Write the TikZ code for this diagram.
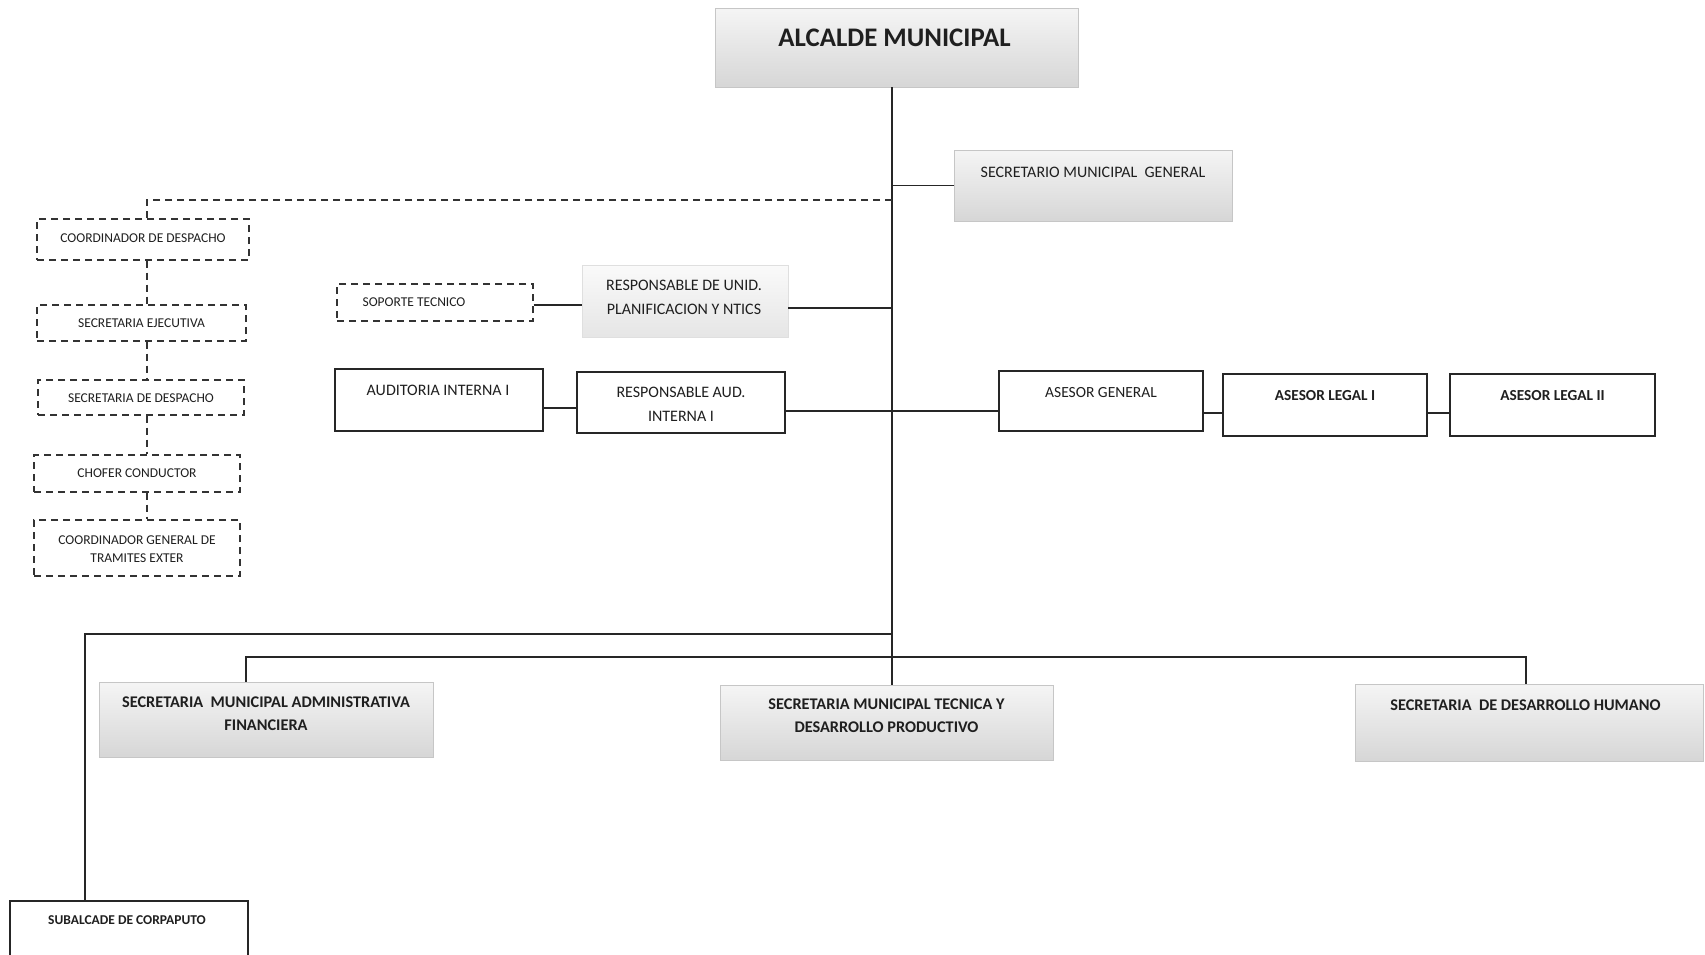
\documentclass[tikz,border=0pt]{standalone}
\usepackage{fontspec}
\setmainfont{Carlito}
\usetikzlibrary{calc}
\begin{document}
\begin{tikzpicture}[x=1pt,y=-1pt,
  conn/.style={line width=1.5pt, draw=black!85},
  dconn/.style={line width=1.2pt, draw=black!80, dash pattern=on 7pt off 5pt},
  solidbox/.style={draw=black!85, line width=1.3pt, inner sep=0pt},
  dashbox/.style={draw=black!80, line width=1.2pt, dash pattern=on 7pt off 5pt, inner sep=0pt},
  shadebox/.style={draw=gray!45, line width=0.8pt, top color=gray!8, bottom color=gray!32, inner sep=0pt},
  txt/.style={text=black!88, align=center, inner sep=0pt},
  big/.style={txt, font=\bfseries\fontsize{26.8}{31}\selectfont},
  mid/.style={txt, font=\fontsize{16}{24}\selectfont},
  midb/.style={txt, font=\bfseries\fontsize{16.3}{23}\selectfont},
  small/.style={txt, font=\fontsize{13.5}{18.5}\selectfont},
]
\useasboundingbox (0,0) rectangle (1705,954);
\fill[white] (0,0) rectangle (1705,954);

% boxes
\node[shadebox, minimum width=363pt, minimum height=79pt] (alc) at (896.5,47.5) {};
\node[big] (alct) at ([xshift=-2pt,yshift=9.5pt]alc.center) {ALCALDE MUNICIPAL};

\node[shadebox, minimum width=278pt, minimum height=71pt] (sec) at (1093,185.5) {};
\node[mid] (sect) at ([yshift=13.5pt]sec.center) {SECRETARIO MUNICIPAL\ \ GENERAL};

\node[dashbox, minimum width=212pt, minimum height=41pt] (cd) at (143,239.5) {};
\node[small] (cdt) at ([yshift=1.5pt]cd.center) {COORDINADOR DE DESPACHO};

\node[dashbox, minimum width=209pt, minimum height=36pt] (se) at (141.5,323) {};
\node[small] (set) at (se.center) {SECRETARIA EJECUTIVA};

\node[dashbox, minimum width=206pt, minimum height=35pt] (sd) at (141,397.5) {};
\node[small] (sdt) at ([yshift=-1pt]sd.center) {SECRETARIA DE DESPACHO};

\node[dashbox, minimum width=206pt, minimum height=37pt] (ch) at (137,473.5) {};
\node[small] (cht) at (ch.center) {CHOFER CONDUCTOR};

\node[dashbox, minimum width=206pt, minimum height=56pt] (cg) at (137,548) {};
\node[small] (cgt) at ([yshift=-1pt]cg.center) {COORDINADOR GENERAL DE\\TRAMITES EXTER};

\node[dashbox, minimum width=196pt, minimum height=37pt] (sop) at (435,302.5) {};
\node[small] (sopt) at ([xshift=-21pt]sop.center) {SOPORTE TECNICO};

\node[shadebox, draw=gray!25, top color=gray!4, bottom color=gray!20, minimum width=206pt, minimum height=72pt] (ru) at (685,301) {};
\node[mid] (rut) at ([xshift=-1pt,yshift=4pt]ru.center) {RESPONSABLE DE UNID.\\PLANIFICACION Y NTICS};

\node[solidbox, minimum width=208pt, minimum height=62pt] (aud) at (439,400) {};
\node[mid] (audt) at ([xshift=-1pt,yshift=10pt]aud.center) {AUDITORIA INTERNA I};

\node[solidbox, minimum width=208pt, minimum height=61pt] (raud) at (681,402.5) {};
\node[mid] (raudt) at ([yshift=-2pt]raud.center) {RESPONSABLE AUD.\\INTERNA I};

\node[solidbox, minimum width=204pt, minimum height=60pt] (ag) at (1101,401) {};
\node[mid, font=\fontsize{15.5}{22}\selectfont] (agt) at ([yshift=8pt]ag.center) {ASESOR GENERAL};

\node[solidbox, minimum width=204pt, minimum height=62pt] (al1) at (1325,405) {};
\node[midb, font=\bfseries\fontsize{15.3}{22}\selectfont] (al1t) at ([yshift=9pt]al1.center) {ASESOR LEGAL I};

\node[solidbox, minimum width=205pt, minimum height=62pt] (al2) at (1552.5,405) {};
\node[midb, font=\bfseries\fontsize{15.3}{22}\selectfont] (al2t) at ([yshift=9pt]al2.center) {ASESOR LEGAL II};

\node[shadebox, minimum width=334pt, minimum height=75pt] (adm) at (266,719.5) {};
\node[midb] (admt) at ([yshift=6pt]adm.center) {SECRETARIA\ \ MUNICIPAL ADMINISTRATIVA\\FINANCIERA};

\node[shadebox, minimum width=333pt, minimum height=75pt] (tec) at (886.5,722.5) {};
\node[midb] (tect) at ([yshift=6.5pt]tec.center) {SECRETARIA MUNICIPAL TECNICA Y\\DESARROLLO PRODUCTIVO};

\node[shadebox, minimum width=348pt, minimum height=77pt] (dh) at (1529,722.5) {};
\node[midb] (dht) at ([xshift=-3.5pt,yshift=17pt]dh.center) {SECRETARIA\ \ DE DESARROLLO HUMANO};

\node[solidbox, minimum width=238pt, minimum height=57pt] (sub) at (129,929.5) {};
\node[midb, font=\bfseries\fontsize{13.5}{18}\selectfont] (subt) at ([xshift=-2pt,yshift=9.5pt]sub.center) {SUBALCADE DE CORPAPUTO};

% connectors
\coordinate (m) at (892,0);
\draw[conn] (alc.south -| m) -- (tec.north -| m);
\draw[conn] (m |- sec.west) -- (sec.west);

\coordinate (dl) at (147,200);
\draw[dconn] (m |- dl) -- (dl) -- (dl |- cd.north);
\draw[dconn] (cd.south -| dl) -- (se.north -| dl);
\draw[dconn] (se.south -| dl) -- (sd.north -| dl);
\draw[dconn] (sd.south -| dl) -- (ch.north -| dl);
\draw[dconn] (ch.south -| dl) -- (cg.north -| dl);

\coordinate (ya) at (0,305);
\draw[conn] (sop.east |- ya) -- (ru.west |- ya);
\coordinate (yb) at (0,308);
\draw[conn] (ru.east |- yb) -- (m |- yb);

\coordinate (yc) at (0,408);
\draw[conn] (aud.east |- yc) -- (raud.west |- yc);
\coordinate (yd) at (0,411);
\draw[conn] (raud.east |- yd) -- (ag.west |- yd);
\coordinate (ye) at (0,413);
\draw[conn] (ag.east |- ye) -- (al1.west |- ye);
\draw[conn] (al1.east |- ye) -- (al2.west |- ye);

\coordinate (s1) at (85,634);
\draw[conn] (m |- s1) -- (s1) -- (s1 |- sub.north);
\coordinate (hl) at (246,657);
\coordinate (hr) at (1526,657);
\draw[conn] (hl |- adm.north) -- (hl) -- (hr) -- (hr |- dh.north);
\end{tikzpicture}
\end{document}
